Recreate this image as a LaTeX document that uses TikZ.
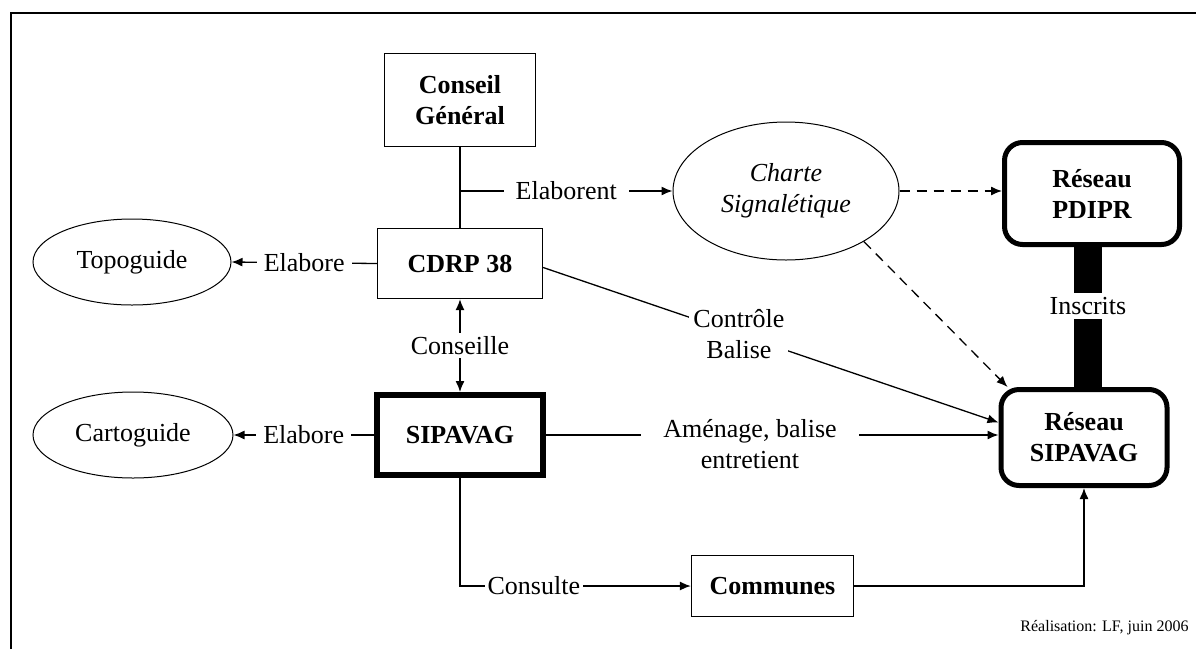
\documentclass[tikz,border=0pt]{standalone}
\usepackage{fontspec}
\setmainfont{Liberation Serif}
\usetikzlibrary{arrows.meta, calc, shapes.geometric}
\newcommand{\TailleTexte}{\fontsize{26}{31}\selectfont}
\tikzset{
  %% ── Boîtes ───────────────────────────────────────────────────────────
  %% Les acteurs sont des rectangles, les réseaux des rectangles arrondis
  %% épais, les documents des ellipses fines.
  boite/.style        = {draw, line width=1.3pt, align=center, inner sep=0pt,
                         font=\TailleTexte\bfseries},
  boiteEpaisse/.style = {boite, line width=6pt},
  reseau/.style       = {boite, line width=5pt, rounded corners=18pt},
  bulle/.style        = {draw, ellipse, line width=1pt, inner sep=0pt,
                         align=center, font=\TailleTexte},
  %%
  %% ── Flèches ──────────────────────────────────────────────────────────
  fleche/.style       = {-{Latex[length=11pt, width=9pt]}, line width=1.3pt},
  flecheDouble/.style = {{Latex[length=11pt, width=9pt]}-{Latex[length=11pt, width=9pt]},
                         line width=1.3pt},
  pointille/.style    = {fleche, dash pattern=on 10pt off 7pt},
  lien/.style         = {line width=1.3pt},
  barre/.style        = {line width=28pt},
  %%
  %% ── Texte ────────────────────────────────────────────────────────────
  %% Une étiquette coupe le trait qu'elle nomme : fond blanc opaque.
  etiquette/.style    = {fill=white, align=center, inner sep=4pt,
                         font=\TailleTexte},
}

\begin{document}
\begin{tikzpicture}[x=1pt, y=-1pt]
\useasboundingbox (0,0) rectangle (1196,649);
\draw[lien] (11,649) -- (11,13) -- (1196,13);

\node[boite, minimum width=151pt, minimum height=93pt] (conseil) at (460,100) {Conseil\\Général};
\node[boite, minimum width=165pt, minimum height=70pt] (cdrp) at (460,263.5) {CDRP 38};
\node[boiteEpaisse, minimum width=166pt, minimum height=80pt] (sipavag) at (460,435) {SIPAVAG};
\node[boite, minimum width=162pt, minimum height=61pt] (communes) at (772.5,586) {Communes};
\node[reseau, minimum width=175pt, minimum height=102pt] (pdipr) at (1092,193.5) {Réseau\\PDIPR};
\node[reseau, minimum width=166pt, minimum height=96pt] (rsip) at (1084,437.5) {Réseau\\SIPAVAG};

\node[bulle, minimum width=226pt, minimum height=138pt, font=\TailleTexte\itshape] (charte) at (786,191) {Charte\\Signalétique};
\node[bulle, minimum width=198pt, minimum height=86pt] (topo) at (132,262) {Topoguide};
\node[bulle, minimum width=200pt, minimum height=86pt] (carto) at (133,435) {Cartoguide};

\draw[lien] (conseil) -- (cdrp);
\coordinate (jonction) at (conseil.south |- charte.west);
\draw[fleche] (jonction) -- node[etiquette, inner xsep=12pt] (elaborent) {Elaborent} (charte.west);

\draw[fleche] (cdrp.west) -- node[etiquette, inner xsep=7pt] (elabTopo) {Elabore} (topo.east);
\draw[fleche] (sipavag.west) -- node[etiquette, inner xsep=7pt] (elabCarto) {Elabore} (carto.east);
\draw[flecheDouble] (sipavag.north) -- node[etiquette, inner ysep=3pt] (conseille) {Conseille} (cdrp.south);

\draw[fleche] ([yshift=-4pt]cdrp.east) -- node[etiquette, pos=0.43] (controle) {Contrôle\\Balise} ([yshift=15pt]rsip.west);
\draw[fleche] (sipavag.east) -- (sipavag.east -| rsip.west);
\node[etiquette, inner xsep=22pt, inner ysep=2pt] (amenage) at (750,444) {Aménage, balise\\entretient};

\draw[pointille] (charte.east) -- (charte.east -| pdipr.west);
\draw[pointille] (charte.-33) -- ([xshift=9pt]rsip.north west);

\coordinate (milieu) at ($(pdipr.south)!0.5!(rsip.north)$);
\draw[barre] (pdipr.south -| milieu) -- node[etiquette, pos=0.42, inner xsep=2pt] (inscrits) {Inscrits} (rsip.north -| milieu);

\draw[fleche] (sipavag.south) |- node[etiquette, pos=0.66, inner sep=3pt] (consulte) {Consulte} (communes.west);
\draw[fleche] (communes.east) -| (rsip.south);

\node[anchor=east, font=\fontsize{16}{19}\selectfont] (credit) at (1192,628) {Réalisation: LF, juin 2006};
\end{tikzpicture}
\end{document}
